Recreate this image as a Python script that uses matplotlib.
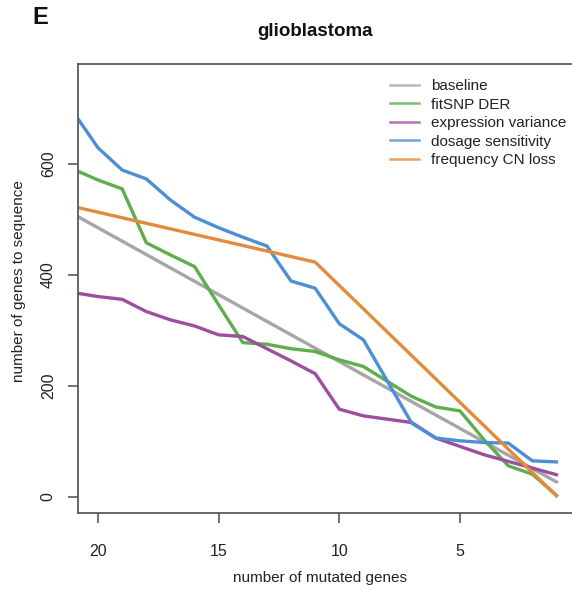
import matplotlib
matplotlib.use("Agg")
import matplotlib.pyplot as plt

plt.rcParams['font.family'] = ['Liberation Sans', 'DejaVu Sans']

# number of mutated genes (x) and genes to sequence per method
x_all = [21, 20, 19, 18, 17, 16, 15, 14, 13, 12, 11, 10, 9, 8, 7, 6, 5, 4, 3, 2, 1]

baseline_x = [21, 1]
baseline = [509, 27]

fitsnp = [590, 571, 555, 458, 436, 415, 346, 278, 275, 267, 262, 247, 235, 208, 181, 162, 155, 103, 56, 41, 3]
expr_var = [368, 361, 356, 334, 319, 308, 292, 289, 267, 245, 222, 158, 146, 140, 134, 106, 91, 76, 64, 52, 40]
dosage = [692, 629, 589, 573, 535, 504, 485, 468, 452, 389, 376, 312, 283, 208, 133, 106, 101, 98, 97, 65, 63]

cnloss_x = [21, 11, 1]
cnloss = [523, 423, 2]

labels = ["baseline", "fitSNP DER", "expression variance", "dosage sensitivity", "frequency CN loss"]
colors = ["#a6a6a6", "#5caf4a", "#9c4f9e", "#4d8fd5", "#e38b3b"]

W, H = 572, 592
fig = plt.figure(figsize=(W / 100, H / 100), dpi=100)
ax = fig.add_axes([78 / W, (H - 513) / H, (590 - 78) / W, (513 - 64) / H])

lw = 2.4
ax.plot(baseline_x, baseline, color=colors[0], lw=lw, label=labels[0])
ax.plot(x_all, fitsnp, color=colors[1], lw=lw, label=labels[1])
ax.plot(x_all, expr_var, color=colors[2], lw=lw, label=labels[2])
ax.plot(x_all, dosage, color=colors[3], lw=lw, label=labels[3])
ax.plot(cnloss_x, cnloss, color=colors[4], lw=lw, label=labels[4])

ax.set_xlim(20.83, -0.39)
ax.set_ylim(-29, 780)
ax.set_xticks([20, 15, 10, 5])
ax.set_yticks([0, 200, 400, 600])
ax.spines['right'].set_visible(False)
for s in ['left', 'bottom', 'top']:
    ax.spines[s].set_color('#5a5a5a')
    ax.spines[s].set_linewidth(1.3)
ax.tick_params(direction='out', length=7, width=1.2, color='#5a5a5a',
               labelsize=11.5, labelcolor='#222222')
ax.tick_params(axis='x', pad=15)
ax.tick_params(axis='y', pad=9)
for t in ax.get_yticklabels():
    t.set_rotation(90)
    t.set_va('center')

fig.text(320 / W, 1 - 578 / H, "number of mutated genes", ha='center', va='center',
         fontsize=11, color='#222222')
fig.text(19 / W, 1 - 281 / H, "number of genes to sequence", ha='center', va='center',
         rotation=90, fontsize=11, color='#222222')
fig.text(315 / W, 1 - 31 / H, "glioblastoma", ha='center', va='center',
         fontsize=13.5, fontweight='bold', color='#111111')
fig.text(40 / W, 1 - 18 / H, "E", ha='center', va='center',
         fontsize=17, fontweight='bold', color='#111111')

leg = ax.legend(frameon=False, loc='upper left', bbox_to_anchor=(390 / W, 1 - 79 / H),
                bbox_transform=fig.transFigure, fontsize=11, handlelength=1.9,
                handletextpad=0.8, labelspacing=0.3, borderpad=0, borderaxespad=0)
for h in leg.get_lines():
    h.set_linewidth(1.8)
    h.set_alpha(0.8)
for t in leg.get_texts():
    t.set_color('#222222')

fig.savefig("out.png", dpi=100)
